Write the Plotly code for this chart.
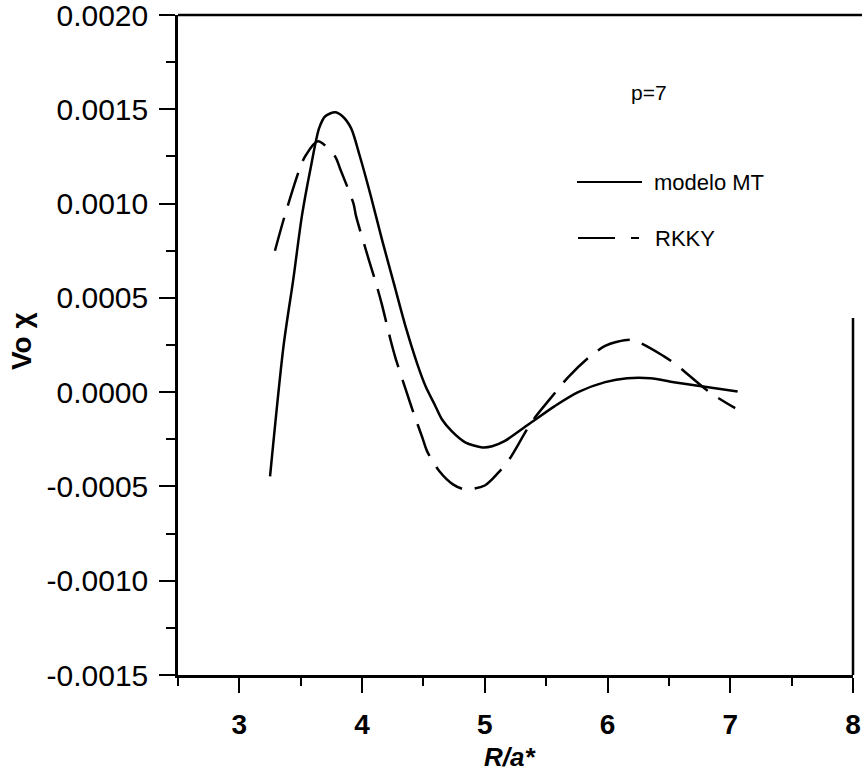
import plotly.graph_objects as go

# ---- data ----
mt_x = [3.25, 3.36, 3.44, 3.51, 3.58, 3.65, 3.70, 3.78, 3.84, 3.91, 3.98, 4.07, 4.16,
        4.26, 4.36, 4.45, 4.52, 4.59, 4.65, 4.73, 4.84, 4.98, 5.06, 5.16, 5.38, 5.57,
        5.76, 5.98, 6.16, 6.35, 6.54, 6.75, 7.06]
mt_y = [-0.000447, 0.000245, 0.000601, 0.000936, 0.001186, 0.0014, 0.001463, 0.001484,
        0.001463, 0.0014, 0.001255, 0.001043, 0.000814, 0.000574, 0.000335, 0.000149,
        0.000027, -0.000064, -0.000144, -0.000207, -0.000266, -0.000293, -0.000287,
        -0.00026, -0.00016, -0.000074, 0.0, 0.000053, 0.000074, 0.000074, 0.000053,
        0.000032, 0.000003]

rkky_x = [3.29, 3.37, 3.50, 3.54, 3.64, 3.78, 3.82, 3.93, 3.95, 4.06, 4.11, 4.16, 4.23,
          4.27, 4.36, 4.42, 4.49, 4.53, 4.63, 4.74, 4.84, 5.00, 5.12, 5.20, 5.38, 5.53,
          5.68, 5.85, 5.98, 6.07, 6.20, 6.46, 6.55, 6.83, 7.04]
rkky_y = [0.00075, 0.000936, 0.0012, 0.001255, 0.00133, 0.00125, 0.001186, 0.001,
          0.000936, 0.000691, 0.000585, 0.000468, 0.000282, 0.000186, 0.000005, -0.000112,
          -0.000239, -0.000314, -0.00042, -0.000489, -0.000516, -0.000495, -0.00042,
          -0.000356, -0.00016, -0.000037, 0.00008, 0.000186, 0.000245, 0.000266, 0.000277,
          0.00019, 0.00015, 0.0, -0.000085]

x_ticks = [3, 4, 5, 6, 7, 8]
y_tick_vals = [0.0020, 0.0015, 0.0010, 0.0005, 0.0, -0.0005, -0.0010, -0.0015]
y_tick_text = ["0.0020", "0.0015", "0.0010", "0.0005", "0.0000", "-0.0005", "-0.0010", "-0.0015"]

series_names = ["modelo MT", "RKKY"]

# ---- layout geometry ----
W, H = 862, 777
L, R, T, B = 178, 9, 15, 102
PW, PH = W - L - R, H - T - B


def px(x):
    return (x - L) / PW


def py(y):
    return (H - B - y) / PH


FONT = "Liberation Sans, Arial, sans-serif"

fig = go.Figure()
fig.add_trace(go.Scatter(x=mt_x, y=mt_y, mode="lines", name=series_names[0],
                         line=dict(color="black", width=2.5, shape="spline", smoothing=0.8)))
fig.add_trace(go.Scatter(x=rkky_x, y=rkky_y, mode="lines", name=series_names[1],
                         line=dict(color="black", width=2.5, shape="spline", smoothing=0.8,
                                   dash="34px,13px")))

fig.update_layout(
    width=W, height=H,
    margin=dict(l=L, r=R, t=T, b=B, autoexpand=False),
    paper_bgcolor="white", plot_bgcolor="white",
    showlegend=False,
    font=dict(family=FONT, color="black"),
)

fig.update_xaxes(
    range=[2.5, 8.0000001], tickvals=x_ticks, ticktext=[str(v) for v in x_ticks],
    showgrid=False, zeroline=False, automargin=False,
    showline=True, linecolor="black", linewidth=2.5, mirror=False,
    ticks="outside", ticklen=15, tickwidth=2, tickcolor="black",
    minor=dict(dtick=0.5, tick0=2.5, ticks="outside", ticklen=8, tickwidth=2, tickcolor="black"),
    tickfont=dict(family=FONT, size=28, color="black", weight="bold"),
    ticklabelstandoff=8, ticklabeloverflow="allow",
)
fig.update_yaxes(
    range=[-0.0015000001, 0.0020000001], tickvals=y_tick_vals, ticktext=y_tick_text,
    showgrid=False, zeroline=False, automargin=False,
    showline=True, linecolor="black", linewidth=2.5,
    ticks="outside", ticklen=16, tickwidth=2, tickcolor="black",
    minor=dict(dtick=0.00025, tick0=0, ticks="outside", ticklen=9, tickwidth=2, tickcolor="black"),
    tickfont=dict(family=FONT, size=30, color="black"),
    ticklabelstandoff=5, ticklabeloverflow="allow",
)

# top border and partial right border (as in the scan)
fig.add_shape(type="line", xref="paper", yref="paper", x0=0, x1=1.02, y0=1, y1=1,
              line=dict(color="black", width=2.5))
fig.add_shape(type="line", xref="paper", yref="paper", x0=1, x1=1, y0=0, y1=py(318),
              line=dict(color="black", width=2.5))

# legend samples
fig.add_shape(type="line", xref="paper", yref="paper", x0=px(577), x1=px(642),
              y0=py(182), y1=py(182), line=dict(color="black", width=2))
fig.add_shape(type="line", xref="paper", yref="paper", x0=px(578), x1=px(615),
              y0=py(238), y1=py(238), line=dict(color="black", width=2))
fig.add_shape(type="line", xref="paper", yref="paper", x0=px(631), x1=px(639),
              y0=py(238), y1=py(238), line=dict(color="black", width=2))

ann = [
    dict(text=series_names[0], x=px(652), y=py(182), xanchor="left", yanchor="middle",
         font=dict(size=22)),
    dict(text=series_names[1], x=px(653), y=py(238), xanchor="left", yanchor="middle",
         font=dict(size=22)),
    dict(text="p=7", x=px(649), y=py(92), xanchor="center", yanchor="middle",
         font=dict(size=21)),
    dict(text="<i><b>R/a*</b></i>", x=px(510), y=py(757), xanchor="center", yanchor="middle",
         font=dict(size=26)),
    dict(text="<b>Vo χ</b>", x=px(21), y=py(341), xanchor="center", yanchor="middle",
         textangle=-90, font=dict(size=28)),
]
for a in ann:
    a.update(xref="paper", yref="paper", showarrow=False)
    a["font"].update(family=FONT, color="black")
    fig.add_annotation(**a)

fig.write_html("out.html")
